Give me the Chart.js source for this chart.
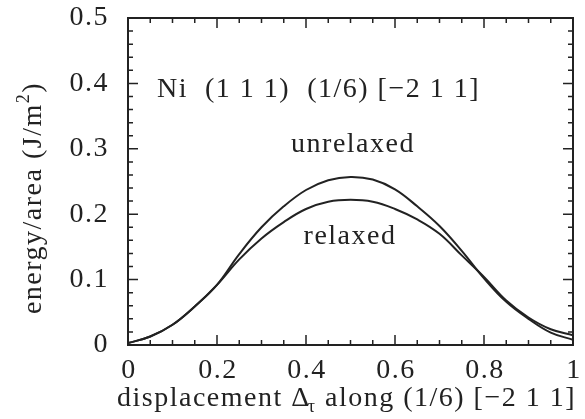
<!DOCTYPE html>
<html>
<head>
<meta charset="utf-8">
<script src="https://cdn.jsdelivr.net/npm/chart.js@4.4.1/dist/chart.umd.min.js"></script>
<style>
  html, body { margin: 0; padding: 0; background: #fff; }
  canvas { display: block; }
</style>
</head>
<body>
<canvas id="stackingChart" width="585" height="419"></canvas>
<script>
// displacement (fraction of the partial vector)
const displacement = [0, 0.05, 0.1, 0.15, 0.2, 0.25, 0.3, 0.35, 0.4, 0.45, 0.5,
                      0.55, 0.6, 0.65, 0.7, 0.75, 0.8, 0.85, 0.9, 0.95, 1];
// energy per area, J/m^2
const unrelaxed = [0.003, 0.013, 0.031, 0.059, 0.092, 0.139, 0.180, 0.212, 0.237, 0.252, 0.257,
                   0.253, 0.238, 0.212, 0.182, 0.144, 0.102, 0.066, 0.040, 0.019, 0.008];
const relaxed = [0.003, 0.013, 0.031, 0.059, 0.092, 0.131, 0.163, 0.188, 0.208, 0.219, 0.222,
                 0.219, 0.208, 0.192, 0.170, 0.137, 0.104, 0.068, 0.042, 0.024, 0.015];

const xTickLabels = ['0', '0.2', '0.4', '0.6', '0.8', '1'];
const yTickLabels = ['0', '0.1', '0.2', '0.3', '0.4', '0.5'];

const FONT = '"Liberation Serif", "Times New Roman", serif';
const INK = '#222';

function toPoints(ys) {
    return displacement.map((x, i) => ({ x: x, y: ys[i] }));
}

// frame, inward ticks on all four sides, tick labels and annotations
const framePlugin = {
    id: 'frame',
    afterDraw(chart) {
        const ctx = chart.ctx;
        const xs = chart.scales.x;
        const ys = chart.scales.y;
        const a = chart.chartArea;
        ctx.save();
        ctx.strokeStyle = INK;
        ctx.fillStyle = INK;
        ctx.lineWidth = 2;
        ctx.strokeRect(a.left, a.top, a.right - a.left, a.bottom - a.top);

        ctx.lineWidth = 1.5;
        // x ticks: minor every 0.05, major every 0.2
        for (let i = 0; i <= 20; i++) {
            const v = i * 0.05;
            const px = xs.getPixelForValue(v);
            const len = (i % 4 === 0) ? 10 : 5;
            ctx.beginPath();
            ctx.moveTo(px, a.bottom); ctx.lineTo(px, a.bottom - len);
            ctx.moveTo(px, a.top); ctx.lineTo(px, a.top + len);
            ctx.stroke();
        }
        // y ticks: minor every 0.02, major every 0.1
        for (let i = 0; i <= 25; i++) {
            const v = i * 0.02;
            const py = ys.getPixelForValue(v);
            const len = (i % 5 === 0) ? 10 : 5;
            ctx.beginPath();
            ctx.moveTo(a.left, py); ctx.lineTo(a.left + len, py);
            ctx.moveTo(a.right, py); ctx.lineTo(a.right - len, py);
            ctx.stroke();
        }

        const big = '28px ' + FONT;
        const small = '18px ' + FONT;
        ctx.font = big;
        ctx.letterSpacing = '1.5px';
        ctx.textBaseline = 'alphabetic';
        ctx.textAlign = 'center';
        xTickLabels.forEach(t => {
            ctx.fillText(t, xs.getPixelForValue(parseFloat(t)) + 1, a.bottom + 33);
        });
        ctx.textAlign = 'right';
        ctx.textBaseline = 'middle';
        yTickLabels.forEach(t => {
            ctx.fillText(t, a.left - 19, ys.getPixelForValue(parseFloat(t)));
        });

        // x axis title with subscript
        ctx.textBaseline = 'alphabetic';
        ctx.textAlign = 'left';
        const xt1 = 'displacement \u0394';
        const xt2 = 'τ';
        const xt3 = ' along (1/6) [\u22122 1 1]';
        let tx = 117;
        const ty = 406;
        ctx.fillText(xt1, tx, ty);
        tx += ctx.measureText(xt1).width;
        ctx.font = small;
        ctx.fillText(xt2, tx - 3, ty + 6);
        tx += ctx.measureText(xt2).width - 3;
        ctx.font = big;
        ctx.fillText(xt3, tx, ty);

        // y axis title, rotated, with superscript
        ctx.save();
        ctx.translate(41, 198);
        ctx.rotate(-Math.PI / 2);
        const yt1 = 'energy/area (J/m';
        const yt2 = '2';
        const yt3 = ')';
        const w1 = ctx.measureText(yt1).width;
        ctx.font = small;
        const w2 = ctx.measureText(yt2).width;
        ctx.font = big;
        const w3 = ctx.measureText(yt3).width;
        let sx = -(w1 + w2 + w3) / 2;
        ctx.fillText(yt1, sx, 0);
        sx += w1;
        ctx.font = small;
        ctx.fillText(yt2, sx, -12);
        sx += w2;
        ctx.font = big;
        ctx.fillText(yt3, sx, 0);
        ctx.restore();

        // annotations inside the plot
        ctx.textAlign = 'left';
        ctx.fillText('Ni  (1 1 1)  (1/6) [\u22122 1 1]', 157, 97);
        ctx.textAlign = 'center';
        ctx.fillText('unrelaxed', 353, 152);
        ctx.fillText('relaxed', 350, 244);
        ctx.restore();
    }
};

new Chart(document.getElementById('stackingChart'), {
    type: 'line',
    data: {
        datasets: [
            { label: 'unrelaxed', data: toPoints(unrelaxed) },
            { label: 'relaxed', data: toPoints(relaxed) }
        ]
    },
    options: {
        responsive: false,
        animation: false,
        layout: { padding: { left: 128, right: 12, top: 18, bottom: 74 } },
        elements: {
            line: { borderColor: INK, borderWidth: 2, tension: 0.4, fill: false },
            point: { radius: 0 }
        },
        plugins: { legend: { display: false }, tooltip: { enabled: false } },
        scales: {
            x: { type: 'linear', min: 0, max: 1, display: false },
            y: { min: 0, max: 0.5, display: false }
        }
    },
    plugins: [framePlugin]
});
</script>
</body>
</html>
